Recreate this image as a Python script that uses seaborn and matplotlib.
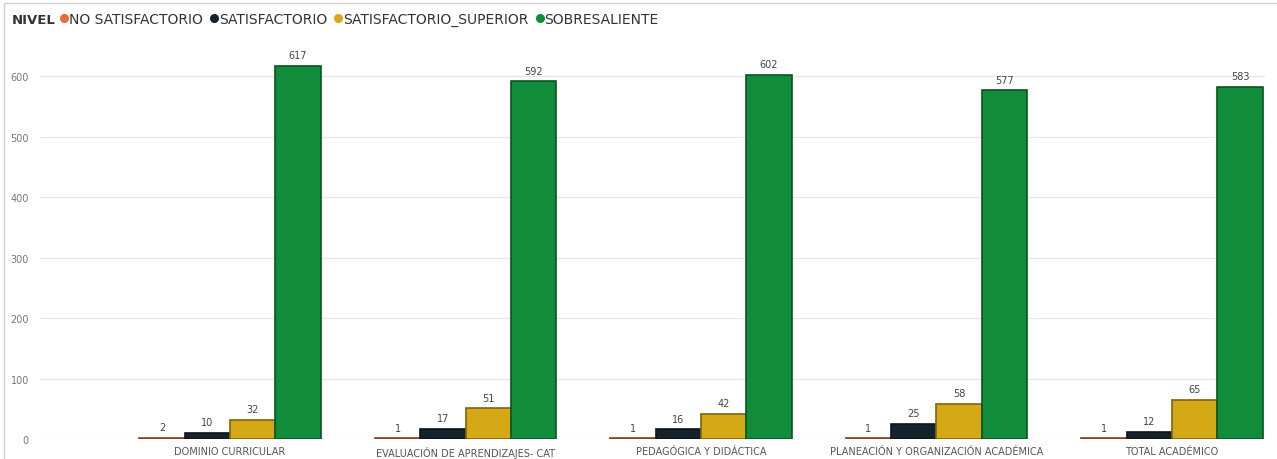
import numpy as np
import pandas as pd
import seaborn as sns
import matplotlib.pyplot as plt
from matplotlib.lines import Line2D
from matplotlib.patches import Rectangle
from matplotlib.colors import to_rgb

categorias = [
    "DOMINIO CURRICULAR",
    "EVALUACIÓN DE APRENDIZAJES- CAT",
    "PEDAGÓGICA Y DIDÁCTICA",
    "PLANEACIÓN Y ORGANIZACIÓN ACADÉMICA",
    "TOTAL ACADÉMICO",
]
niveles = ["NO SATISFACTORIO", "SATISFACTORIO", "SATISFACTORIO_SUPERIOR", "SOBRESALIENTE"]

no_satisfactorio = [2, 1, 1, 1, 1]
satisfactorio = [10, 17, 16, 25, 12]
satisfactorio_superior = [32, 51, 42, 58, 65]
sobresaliente = [617, 592, 602, 577, 583]

colores = ["#E66C37", "#15212B", "#D4A915", "#118C3B"]

valores = [no_satisfactorio, satisfactorio, satisfactorio_superior, sobresaliente]
filas = []
for nivel, serie in zip(niveles, valores):
    for cat, v in zip(categorias, serie):
        filas.append({"categoria": cat, "NIVEL": nivel, "valor": v})
df = pd.DataFrame(filas)

sns.set_style("white")
plt.rcParams['font.family'] = ['DejaVu Sans']

fig = plt.figure(figsize=(12.77, 4.6), dpi=100)
ax = fig.add_axes([40 / 1277, 20 / 460, 1225 / 1277, 393 / 460])

sns.barplot(data=df, x="categoria", y="valor", hue="NIVEL", hue_order=niveles,
            order=categorias, palette=colores, width=0.77, ax=ax, legend=False,
            saturation=1)

for cont, c in zip(ax.containers, colores):
    oscuro = tuple(x * 0.6 for x in to_rgb(c))
    for b in cont:
        b.set_edgecolor(oscuro)
        b.set_linewidth(1.2)
    ax.bar_label(cont, padding=4, fontsize=7, color="#444444")

ax.set_xlim(-0.807, 4.395)
ax.set_ylim(0, 650)
ax.set_yticks([0, 100, 200, 300, 400, 500, 600])
ax.yaxis.grid(True, color="#e6e6e6", linewidth=0.9)
ax.set_axisbelow(True)
for s in ax.spines.values():
    s.set_visible(False)
ax.set_xlabel("")
ax.set_ylabel("")
ax.tick_params(axis="x", labelsize=7, colors="#555555", length=0, pad=5)
ax.tick_params(axis="y", labelsize=7, colors="#777777", length=0, pad=8)

# leyenda superior
fig.text(12 / 1277, 1 - 20 / 460, "NIVEL", fontsize=9.5, fontweight="bold",
         color="#333333", va="center")
handles = [Line2D([0], [0], marker="o", linestyle="", markersize=5.5,
                  markerfacecolor=c, markeredgecolor=c) for c in colores]
fig.legend(handles, niveles, loc="center left", bbox_to_anchor=(60 / 1277, 1 - 20 / 460),
           ncol=4, frameon=False, fontsize=10, handletextpad=0.05, columnspacing=0.5,
           handlelength=0.6, labelcolor="#333333", borderaxespad=0, borderpad=0)

fig.add_artist(Rectangle((4 / 1277, -0.01), 1.02, 1 - 4 / 460 + 0.01, transform=fig.transFigure,
                         fill=False, edgecolor="#cfcfcf", linewidth=1))

plt.savefig("out.png", dpi=100)
